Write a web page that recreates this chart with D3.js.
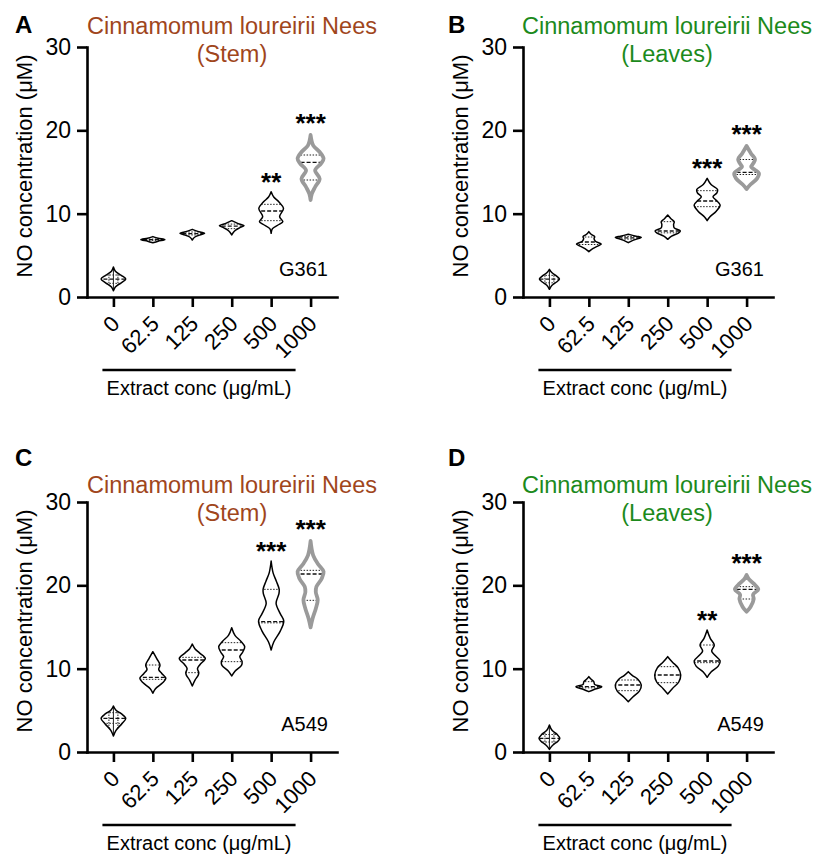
<!DOCTYPE html>
<html><head><meta charset="utf-8">
<script src="https://cdn.jsdelivr.net/npm/d3@7"></script>
<style>body{margin:0;background:#fff} svg{display:block} text{font-family:Arial,"Liberation Sans",sans-serif}</style>
</head><body><svg id="chart" width="814" height="856"></svg>
<script>
// ---- data ----
const concLabels = ["0", "62.5", "125", "250", "500", "1000"];
const yTickValues = [0, 10, 20, 30];

// violin profiles: [value (µM), relative half-width]
const stemG361Profiles = [
  [[0.75,0],[1.2,0.15],[1.7,0.6],[2.15,0.95],[2.6,0.6],[3.1,0.15],[3.6,0]],
  [[6.5,0],[6.7,0.4],[6.88,0.92],[7.05,0.4],[7.25,0]],
  [[6.84,0],[7.2,0.2],[7.5,0.7],[7.64,0.95],[7.8,0.6],[8.12,0]],
  [[7.44,0],[7.9,0.2],[8.3,0.6],[8.56,0.95],[8.8,0.5],[9.16,0]],
  [[7.64,0],[8.2,0.1],[8.7,0.6],[9.04,0.9],[9.64,0.65],[10.64,0.95],[11.4,0.6],[12.0,0.2],[12.64,0]],
  [[11.64,0],[12.4,0.1],[13.2,0.35],[14.2,0.7],[15.2,0.35],[16.0,0.8],[16.6,1.0],[17.4,0.7],[18.2,0.2],[19.44,0]]
];
const stemG361Median = [2.15, 6.88, 7.6, 8.5, 10.32, 16.16];
const stemG361Q1 = [1.64, 6.8, 7.45, 8.2, 9.16, 14.04];
const stemG361Q3 = [2.64, 6.95, 7.8, 8.75, 11.12, 17.04];
const stemG361Stars = ["", "", "", "", "**", "***"];

const leavesG361Profiles = [
  [[0.92,0],[1.4,0.2],[1.8,0.55],[2.15,0.77],[2.5,0.55],[2.9,0.2],[3.32,0]],
  [[5.44,0],[5.8,0.3],[6.2,0.8],[6.36,0.95],[6.7,0.5],[7.0,0.4],[7.24,0.45],[7.5,0.2],[7.84,0]],
  [[6.52,0],[6.8,0.35],[7.05,0.85],[7.16,1.0],[7.3,0.6],[7.52,0]],
  [[6.92,0],[7.3,0.3],[7.7,0.85],[7.92,0.97],[8.3,0.5],[8.7,0.45],[9.04,0.5],[9.4,0.25],[9.84,0]],
  [[9.16,0],[9.6,0.2],[10.3,0.7],[11.04,1.0],[11.6,0.7],[12.04,0.45],[12.5,0.75],[12.9,0.8],[13.5,0.3],[14.24,0]],
  [[12.96,0],[13.5,0.3],[14.2,0.8],[14.84,0.95],[15.3,0.6],[15.64,0.35],[16.0,0.5],[16.52,0.65],[17.2,0.35],[18.12,0]]
];
const leavesG361Median = [2.15, 6.6, 7.1, 7.92, 11.52, 14.96];
const leavesG361Q1 = [1.7, 6.3, 6.95, 7.7, 10.84, 14.7];
const leavesG361Q3 = [2.6, 7.2, 7.25, 9.04, 12.76, 16.5];
const leavesG361Stars = ["", "", "", "", "***", "***"];

const stemA549Profiles = [
  [[1.92,0],[2.6,0.2],[3.4,0.65],[4.04,0.95],[4.6,0.6],[5.0,0.2],[5.52,0]],
  [[7.04,0],[7.6,0.2],[8.3,0.75],[8.84,1.0],[9.4,0.7],[9.9,0.45],[10.44,0.55],[11.2,0.3],[12.04,0]],
  [[7.92,0],[8.6,0.2],[9.2,0.45],[9.52,0.5],[10.0,0.4],[10.5,0.6],[11.24,1.0],[11.9,0.55],[12.4,0.2],[12.96,0]],
  [[9.12,0],[9.7,0.25],[10.4,0.75],[10.84,0.8],[11.44,0.62],[12.0,0.85],[12.64,1.0],[13.3,0.7],[14.0,0.25],[14.92,0]],
  [[12.24,0],[13.2,0.2],[14.5,0.7],[15.72,0.97],[16.6,0.7],[17.84,0.38],[19.0,0.6],[19.52,0.62],[20.5,0.4],[21.5,0.15],[22.92,0]],
  [[14.96,0],[16.0,0.15],[17.2,0.4],[18.24,0.55],[19.2,0.4],[19.84,0.45],[20.8,0.85],[21.64,1.0],[22.5,0.6],[23.6,0.2],[25.32,0]]
];
const stemA549Median = [4.04, 8.96, 11.04, 12.24, 15.64, 21.36];
const stemA549Q1 = [3.44, 8.72, 9.52, 10.84, 15.5, 18.2];
const stemA549Q3 = [4.72, 10.44, 11.36, 13.12, 19.52, 21.8];
const stemA549Stars = ["", "", "", "", "***", "***"];

const leavesA549Profiles = [
  [[0.32,0],[0.8,0.25],[1.3,0.65],[1.64,0.8],[2.1,0.6],[2.6,0.2],[3.24,0]],
  [[7.24,0],[7.5,0.4],[7.84,1.0],[8.1,0.45],[8.44,0.38],[8.7,0.2],[9.04,0]],
  [[6.04,0],[6.6,0.35],[7.3,0.85],[8.04,1.0],[8.7,0.75],[9.2,0.3],[9.64,0]],
  [[6.96,0],[7.6,0.35],[8.4,0.85],[9.24,1.0],[10.1,0.8],[10.8,0.35],[11.44,0]],
  [[8.96,0],[9.6,0.3],[10.3,0.85],[10.92,1.0],[11.6,0.6],[12.1,0.35],[12.84,0.55],[13.6,0.25],[14.64,0]],
  [[16.84,0],[17.4,0.3],[18.36,0.55],[18.9,0.5],[19.52,0.9],[20.2,0.55],[20.7,0.2],[21.24,0]]
];
const leavesA549Median = [1.64, 7.84, 8.04, 9.24, 10.92, 19.52];
const leavesA549Q1 = [1.2, 7.7, 7.36, 8.32, 10.72, 18.36];
const leavesA549Q3 = [2.1, 8.44, 8.64, 10.24, 12.84, 19.84];
const leavesA549Stars = ["", "", "", "", "**", "***"];

const titleLine1 = "Cinnamomum loureirii Nees";
const yTitle = "NO concentration (\u03bcM)";
const xTitle = "Extract conc (\u03bcg/mL)";

// ---- drawing ----
const svg = d3.select("#chart");
const BROWN = "#a0461c", GREEN = "#1c8a1c";

const panels = [
  {letter:"A", part:"(Stem)", color:BROWN, cell:"G361", prof:stemG361Profiles, med:stemG361Median, q1:stemG361Q1, q3:stemG361Q3, stars:stemG361Stars, col:0, row:0},
  {letter:"B", part:"(Leaves)", color:GREEN, cell:"G361", prof:leavesG361Profiles, med:leavesG361Median, q1:leavesG361Q1, q3:leavesG361Q3, stars:leavesG361Stars, col:1, row:0},
  {letter:"C", part:"(Stem)", color:BROWN, cell:"A549", prof:stemA549Profiles, med:stemA549Median, q1:stemA549Q1, q3:stemA549Q3, stars:stemA549Stars, col:0, row:1},
  {letter:"D", part:"(Leaves)", color:GREEN, cell:"A549", prof:leavesA549Profiles, med:leavesA549Median, q1:leavesA549Q1, q3:leavesA549Q3, stars:leavesA549Stars, col:1, row:1}
];

panels.forEach((p, pi) => {
  const axisX = p.col === 0 ? 87 : 523;
  const xEnd = axisX + 250;
  const yBase = p.row === 0 ? 297 : 752;
  const yTop = yBase - 250;
  const dy = p.row === 0 ? 0 : 455;
  const lx = p.col === 0 ? 0 : 433;

  const g = svg.append("g");
  const y = d3.scaleLinear().domain([0, 30]).range([yBase, yTop]);
  const x = d3.scalePoint().domain(concLabels).range([axisX, xEnd]).padding(0.67);
  const w = d3.scaleLinear().domain([0, 1]).range([0, 13]);

  // panel letter
  g.append("text").attr("x", 15 + lx).attr("y", (p.row === 0 ? 33 : 466))
    .style("font-size", "24px").style("font-weight", "bold").text(p.letter);

  // title
  const tcx = p.col === 0 ? 232 : 667;
  const t1 = p.row === 0 ? 34 : 493;
  g.append("text").attr("x", tcx).attr("y", t1).attr("text-anchor", "middle")
    .style("font-size", "23.5px").attr("fill", p.color).text(titleLine1);
  g.append("text").attr("x", tcx).attr("y", t1 + 28).attr("text-anchor", "middle")
    .style("font-size", "23.5px").attr("fill", p.color).text(p.part);

  // y title
  g.append("text").attr("transform", `translate(${32 + (p.col === 0 ? 0 : 436)},${166 + dy}) rotate(-90)`)
    .attr("text-anchor", "middle").style("font-size", "22px").text(yTitle);

  // axes
  const ya = g.append("g").attr("transform", `translate(${axisX},0)`)
    .call(d3.axisLeft(y).tickValues(yTickValues).tickSize(10).tickPadding(6).tickSizeOuter(0));
  const xa = g.append("g").attr("transform", `translate(0,${yBase})`)
    .call(d3.axisBottom(x).tickSize(10).tickSizeOuter(0));
  [ya, xa].forEach(a => {
    a.selectAll("path.domain").attr("stroke", "#000").attr("stroke-width", 2.6).attr("stroke-linecap", "square");
    a.selectAll(".tick line").attr("stroke", "#000").attr("stroke-width", 2.6);
    a.selectAll(".tick text").attr("fill", "#000").style("font-size", "23px")
      .style("font-family", "Arial, 'Liberation Sans', sans-serif");
  });
  xa.selectAll(".tick text").style("font-size", "22px").attr("x", 0).attr("y", 0).attr("dy", 0)
    .attr("text-anchor", "end").attr("transform", "translate(7,28) rotate(-45)");

  // violins
  p.prof.forEach((prof, i) => {
    const cx = x(concLabels[i]);
    const last = i === concLabels.length - 1;
    const area = d3.area().curve(d3.curveCatmullRom.alpha(0.5))
      .y(d => y(d[0])).x0(d => cx - w(d[1])).x1(d => cx + w(d[1]));
    const dPath = area(prof);
    const cid = `clip-${pi}-${i}`;
    g.append("clipPath").attr("id", cid).append("path").attr("d", dPath);
    g.append("path").attr("d", dPath).attr("fill", "#fff");
    const inner = g.append("g").attr("clip-path", `url(#${cid})`);
    [p.q1[i], p.q3[i]].forEach(v => {
      inner.append("line").attr("x1", cx - 16).attr("x2", cx + 16).attr("y1", y(v)).attr("y2", y(v))
        .attr("stroke", "#222").attr("stroke-width", 1).attr("stroke-dasharray", "1.5,1.5");
    });
    inner.append("line").attr("x1", cx - 16).attr("x2", cx + 16).attr("y1", y(p.med[i])).attr("y2", y(p.med[i]))
      .attr("stroke", "#111").attr("stroke-width", 1.4).attr("stroke-dasharray", "4,2");
    if (i === 0) {
      const vmin = prof[0][0], vmax = prof[prof.length - 1][0];
      [-4.5, 0, 4.5].forEach(o => {
        inner.append("line").attr("x1", cx + o).attr("x2", cx + o).attr("y1", y(vmin)).attr("y2", y(vmax))
          .attr("stroke", "#222").attr("stroke-width", 1).attr("stroke-dasharray", o === 0 ? null : "1.5,1");
      });
    }
    g.append("path").attr("d", dPath).attr("fill", "none")
      .attr("stroke", last ? "#9a9a9a" : "#000").attr("stroke-width", last ? 3.8 : 1.5)
      .attr("stroke-linejoin", "round");
    if (p.stars[i]) {
      const vmax = prof[prof.length - 1][0];
      g.append("text").attr("x", cx).attr("y", y(vmax) - (last ? 3 : 1)).attr("text-anchor", "middle")
        .style("font-size", "26px").style("font-weight", "bold").text(p.stars[i]);
    }
  });

  // cell line label
  g.append("text").attr("x", xEnd - 9).attr("y", yBase - 21).attr("text-anchor", "end")
    .style("font-size", "20px").text(p.cell);

  // x title with bar
  const ux1 = x(concLabels[0]) - 11, ux2 = x(concLabels[concLabels.length - 1]) - 15;
  g.append("line").attr("x1", ux1).attr("x2", ux2).attr("y1", yBase + 73).attr("y2", yBase + 73)
    .attr("stroke", "#000").attr("stroke-width", 2.6);
  g.append("text").attr("x", (ux1 + ux2) / 2).attr("y", yBase + 98).attr("text-anchor", "middle")
    .style("font-size", "20px").text(xTitle);
});
</script></body></html>
